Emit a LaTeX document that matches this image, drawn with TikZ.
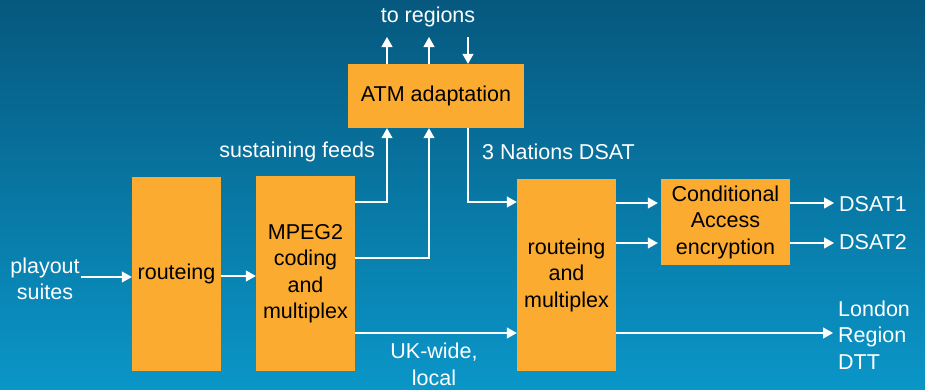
\documentclass[tikz,border=0pt]{standalone}
\usepackage{fontspec}
\setmainfont{Liberation Sans}
\usetikzlibrary{arrows.meta}
\definecolor{bgtop}{RGB}{6,88,126}
\definecolor{bgbot}{RGB}{10,150,200}
\definecolor{boxor}{RGB}{251,171,47}
\tikzset{
  box/.style={fill=boxor, draw=none, inner sep=0pt, align=center, text=black},
  lbl/.style={text=white, inner sep=1pt, align=center},
  arr/.style={draw=white, line width=1.2pt, -{Triangle[length=10pt,width=11pt]}},
}
\begin{document}
\begin{tikzpicture}[x=1pt,y=-1pt,font=\fontsize{21.5}{26.5}\selectfont]
\shade[top color=bgtop, bottom color=bgbot] (0,0) rectangle (925,389);
\useasboundingbox (0,0) rectangle (925,389);
% boxes
\node[box, minimum width=89pt, minimum height=194pt] (r1) at (176.5,273.5) {routeing};
\node[box, minimum width=99pt, minimum height=195pt] (m) at (305.5,273.5) {MPEG2\\coding\\and\\multiplex};
\node[box, minimum width=176pt, minimum height=64pt] (atm) at (436,96) {ATM adaptation};
\node[box, minimum width=99pt, minimum height=192pt] (mux) at (566.5,275) {routeing\\and\\multiplex};
\node[box, minimum width=129pt, minimum height=86pt] (ca) at (725.5,222) {Conditional\\Access\\encryption};
% labels
\node[lbl] (pl) at (45,279) {playout\\suites};
\node[lbl] (tr) at (428,17) {to regions};
\node[lbl, anchor=east] (sf) at (376,152) {sustaining feeds};
\node[lbl, anchor=west] (nd) at (481,152) {3 Nations DSAT};
\node[lbl] (uk) at (434,364.5) {UK-wide,\\local};
\node[lbl, anchor=west] (d1) at (838,204) {DSAT1};
\node[lbl, anchor=west] (d2) at (838,242) {DSAT2};
\node[lbl, anchor=west, align=left] (ld) at (837,335) {London\\Region\\DTT};
% free ends
\coordinate (t1) at (387,37);
\coordinate (t2) at (429,37);
\coordinate (t3) at (468,37);
% connectors
\draw[arr] (pl.east |- 0,277) -- (r1.west |- 0,277);
\draw[arr] (r1.east |- 0,276) -- (m.west |- 0,276);
\draw[arr] (m.east |- 0,202) -| (atm.south -| t1);
\draw[arr] (m.east |- 0,258) -| (atm.south -| t2);
\draw[arr] (m.east |- 0,333) -- (mux.west |- 0,333);
\draw[arr] (atm.south -| t3) |- (mux.west |- 0,202);
\draw[arr] (atm.north -| t1) -- (t1);
\draw[arr] (atm.north -| t2) -- (t2);
\draw[arr] (t3) -- (atm.north -| t3);
\draw[arr, shorten >=3pt] (mux.east |- 0,203) -- (ca.west |- 0,203);
\draw[arr, shorten >=3pt] (mux.east |- 0,243) -- (ca.west |- 0,243);
\draw[arr, shorten >=4pt] (ca.east |- 0,203) -- (d1.west |- 0,203);
\draw[arr, shorten >=4pt] (ca.east |- 0,243) -- (d2.west |- 0,243);
\draw[arr, shorten >=4pt] (mux.east |- 0,333) -- (ld.west |- 0,333);
\end{tikzpicture}
\end{document}
